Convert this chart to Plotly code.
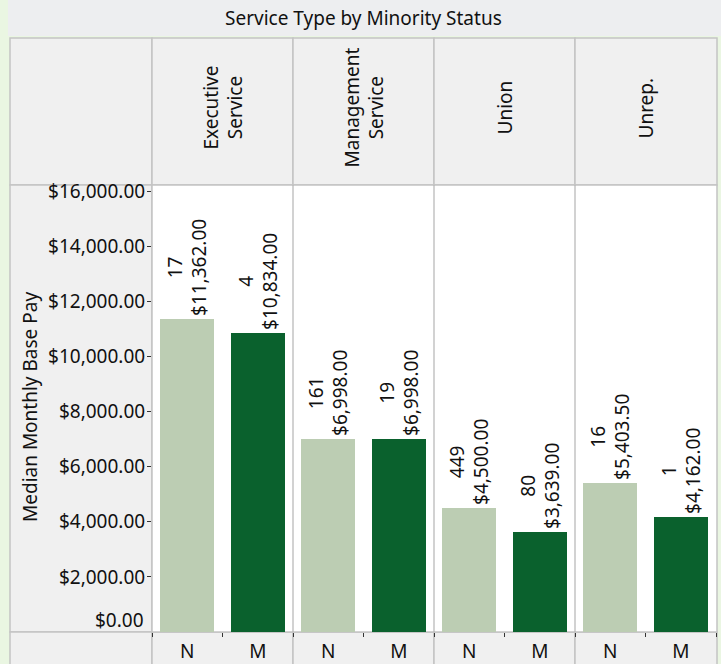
import plotly.graph_objects as go

service_types = ["Executive<br>Service", "Management<br>Service", "Union", "Unrep."]
status_labels = ["N", "M"]
n_values = [11362.00, 6998.00, 4500.00, 5403.50]
m_values = [10834.00, 6998.00, 3639.00, 4162.00]
n_counts = [17, 161, 449, 16]
m_counts = [4, 19, 80, 1]
y_ticks = [2000, 4000, 6000, 8000, 10000, 12000, 14000, 16000]

W, H = 721, 664
L, R, T, B = 152, 5, 185, 32
PW, PH = W - L - R, H - T - B
FONT = "Noto Sans"
FS = 19
BG = "#EAF6E2"
N_COLOR = "#BCCDB3"
M_COLOR = "#0A612D"


def px(x):
    return (x - L) / PW


def py(y):
    return (H - B - y) / PH


def money(v):
    return "${:,.2f}".format(v)


n_x = [2 * i + 0.5 for i in range(len(service_types))]
m_x = [2 * i + 1.5 for i in range(len(service_types))]

fig = go.Figure()
for xs, vals, counts, col in [(n_x, n_values, n_counts, N_COLOR), (m_x, m_values, m_counts, M_COLOR)]:
    fig.add_trace(go.Bar(
        x=xs, y=vals, width=0.77, marker=dict(color=col, line=dict(width=0)),
        text=[f"{c}<br>{money(v)}" for c, v in zip(counts, vals)],
        textposition="outside", textangle=-90, constraintext="none",
        outsidetextfont=dict(family=FONT, size=FS, color="#111"),
        cliponaxis=False, showlegend=False, hoverinfo="skip",
    ))
# invisible trace to carry tick marks on xaxis2
fig.add_trace(go.Scatter(x=[0, 8], y=[0, 0], xaxis="x2", mode="markers",
                         marker=dict(opacity=0), showlegend=False, hoverinfo="skip"))

shapes = []
shapes.append(dict(type="rect", xref="paper", yref="paper", x0=px(8), x1=px(721), y0=py(36), y1=py(0),
                   fillcolor="#EDEEF0", line=dict(width=0), layer="below"))
header_edges = [10, 152, 293, 434, 575, 717]
for i in range(len(header_edges) - 1):
    shapes.append(dict(type="rect", xref="paper", yref="paper", x0=px(header_edges[i]), x1=px(header_edges[i + 1]),
                       y0=py(185), y1=py(38), fillcolor="#F0F0F0", line=dict(color="#C4C4C4", width=1.5),
                       layer="below"))
shapes.append(dict(type="rect", xref="paper", yref="paper", x0=px(10), x1=px(152), y0=py(632), y1=py(185),
                   fillcolor="#F0F0F0", line=dict(color="#C4C4C4", width=1.5), layer="below"))
for i in range(len(header_edges) - 1):
    shapes.append(dict(type="rect", xref="paper", yref="paper", x0=px(header_edges[i]), x1=px(header_edges[i + 1]),
                       y0=py(670), y1=py(632), fillcolor="#F0F0F0", line=dict(color="#C4C4C4", width=1.5),
                       layer="below"))
shapes.append(dict(type="rect", xref="paper", yref="paper", x0=0, x1=px(717), y0=0, y1=1,
                   fillcolor="white", line=dict(color="#C4C4C4", width=1.5), layer="below"))
for g in range(1, len(service_types)):
    shapes.append(dict(type="line", xref="x", yref="paper", x0=2 * g, x1=2 * g, y0=0, y1=1,
                       line=dict(color="#B4B4B4", width=1.2), layer="below"))

annotations = [
    dict(text="Service Type by Minority Status", xref="paper", yref="paper", x=px(363), y=py(18),
         showarrow=False, font=dict(family=FONT, size=FS, color="#111"), xanchor="center", yanchor="middle"),
    dict(text="Median Monthly Base Pay", xref="paper", yref="paper", x=px(30), y=py(407), textangle=-90,
         showarrow=False, font=dict(family=FONT, size=FS, color="#111"), xanchor="center", yanchor="middle"),
    dict(text="$0.00", xref="paper", yref="paper", x=px(146), y=py(620), showarrow=False,
         font=dict(family=FONT, size=FS, color="#111"), xanchor="right", yanchor="middle"),
]
for g, name in enumerate(service_types):
    annotations.append(dict(text=name, xref="x", yref="paper", x=2 * g + 1, y=py(108), textangle=-90,
                            showarrow=False, font=dict(family=FONT, size=FS, color="#111"),
                            xanchor="center", yanchor="middle"))

fig.update_layout(
    width=W, height=H,
    margin=dict(l=L, r=R, t=T, b=B, autoexpand=False),
    paper_bgcolor=BG,
    plot_bgcolor="rgba(0,0,0,0)",
    bargap=0,
    shapes=shapes,
    annotations=annotations,
    xaxis=dict(range=[0, 8], tickvals=n_x + m_x, ticktext=["N"] * 4 + ["M"] * 4,
               ticks="", showgrid=False, zeroline=False, showline=False, automargin=False,
               tickfont=dict(family=FONT, size=FS, color="#111"), ticklabelstandoff=6),
    xaxis2=dict(range=[0, 8], overlaying="x", anchor="y", side="bottom", dtick=1, tick0=0,
                ticks="outside", ticklen=4, tickcolor="#333", showticklabels=False, automargin=False,
                showgrid=False, zeroline=False, showline=False),
    yaxis=dict(range=[0, 16220], tickvals=y_ticks, ticktext=[money(v) for v in y_ticks],
               ticks="outside", ticklen=4, tickcolor="#333", showgrid=False, zeroline=False,
               showline=False, automargin=False, ticklabelstandoff=-2,
               tickfont=dict(family=FONT, size=FS, color="#111")),
    font=dict(family=FONT),
)

fig.write_html("out.html", config=dict(displayModeBar=False), post_script=(
    "document.body.style.margin='0';document.body.style.overflow='hidden';"
    "document.body.style.background='" + BG + "';"
))
